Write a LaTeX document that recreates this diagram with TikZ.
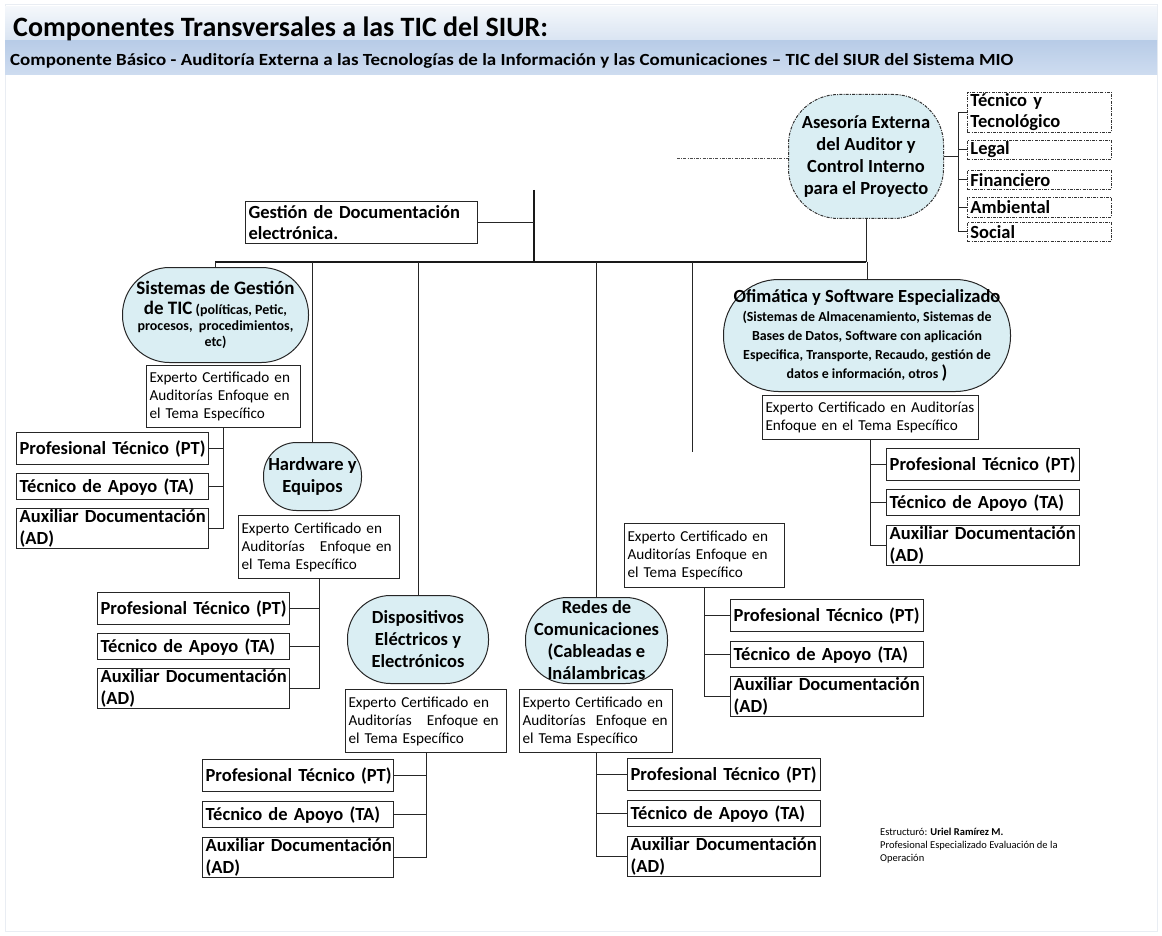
\documentclass[tikz,border=0pt]{standalone}
\usepackage{fontspec}
\usepackage{graphicx}
\setmainfont{Carlito}
\usetikzlibrary{calc}
\definecolor{lblue}{HTML}{DAEEF3}
\definecolor{bandA}{HTML}{F4F7FB}
\definecolor{bandB}{HTML}{D9E4F2}
\definecolor{bandC}{HTML}{B8CCE7}
\definecolor{bandD}{HTML}{CEDCF0}
\definecolor{pframe}{HTML}{E9EDF3}
\newcommand\bx[7]{\pgfmathsetmacro\bxtw{#4-6}\node[#6,minimum width=#4pt,minimum height=#5pt,text width=\bxtw pt,anchor=north west] (#1) at (#2,#3) {#7};}
\newcommand\rb[7]{\node[#6,minimum width=#4pt,minimum height=#5pt,anchor=north west] (#1) at (#2,#3) {#7};}
\newcommand\grp[8]{%
  \bx{#1pt}{#2}{#4}{#3}{32}{role}{\mbox{Profesional Técnico (PT)}}
  \bx{#1ta}{#2}{#5}{#3}{26}{role}{\mbox{Técnico de Apoyo (TA)}}
  \bx{#1ad}{#2}{#6}{#3}{40}{role}{\mbox{Auxiliar Documentación}\\\mbox{(AD)}}
  \draw[conn] (#7.south) -- (#7.south |- #1ad.#8);
  \draw[conn] (#1pt.#8) -- (#1pt.#8 -| #7.south);
  \draw[conn] (#1ta.#8) -- (#1ta.#8 -| #7.south);
  \draw[conn] (#1ad.#8) -- (#1ad.#8 -| #7.south);
}
\begin{document}
\begin{tikzpicture}[x=1pt,y=-1pt,
  conn/.style={line width=1pt, draw=black!85},
  role/.style={draw=black!85, line width=1.3pt, fill=white, font=\fontsize{18.5}{21.5}\selectfont\bfseries, align=left, inner xsep=3pt, inner ysep=0pt},
  expert/.style={draw=black!85, line width=1pt, fill=white, font=\fontsize{15.2}{18}\selectfont, align=left, inner xsep=3pt, inner ysep=0pt},
  topic/.style={draw=black!85, line width=1pt, fill=lblue, font=\fontsize{18.5}{22}\selectfont\bfseries, align=center, inner sep=0pt},
  dd/.style={dash pattern=on 3pt off 1.2pt on 1pt off 1.2pt},
  area/.style={draw=black!80, line width=0.9pt, dd, font=\fontsize{18.5}{21}\selectfont\bfseries, align=left, inner xsep=3pt, inner ysep=0pt},
]
\useasboundingbox (0,0) rectangle (1162,936);
\fill[white] (0,0) rectangle (1162,936);
\draw[pframe, line width=1pt] (5,5) rectangle (1157,931);
% header
\shade[top color=bandA, bottom color=bandB] (5,7) rectangle (1157,41);
\shade[top color=bandC, bottom color=bandD] (5,41) rectangle (1157,75);
\node[anchor=base west, inner sep=0pt, font=\fontsize{28}{30}\selectfont\bfseries] (title) at (13,37) {Componentes Transversales a las TIC del SIUR:};
\node[anchor=base west, inner sep=0pt, font=\fontsize{17}{18}\selectfont\bfseries] (subtitle) at (10,66) {\resizebox{1003pt}{\height}{Componente Básico - Auditoría Externa a las Tecnologías de la Información y las Comunicaciones – TIC del SIUR del Sistema MIO}};

% Asesoria and areas
\rb{ase}{788}{94}{155}{124}{topic, dd, draw=black!80, rounded corners=50pt}{Asesoría Externa\\del Auditor y\\Control Interno\\para el Proyecto}
\bx{a1}{967}{92}{144}{40}{area}{\mbox{Técnico y}\\\mbox{Tecnológico}}
\bx{a2}{967}{140}{144}{19}{area}{\mbox{Legal}}
\bx{a3}{967}{170}{144}{19}{area}{\mbox{Financiero}}
\bx{a4}{967}{197}{144}{20}{area}{\mbox{Ambiental}}
\bx{a5}{967}{222}{144}{19}{area}{\mbox{Social}}
\coordinate (brk) at (958,0);
\coordinate (dl) at (677,158);
\draw[line width=0.8pt, black!70, dd] (dl) -- (dl -| ase.west);
\draw[conn] (ase.east) -- (ase.east -| brk);
\draw[conn] (a1.west -| brk) -- (a5.west -| brk);
\foreach \a in {a1,a2,a3,a4,a5} \draw[conn] (\a.west) -- (\a.west -| brk);

% bus
\coordinate (busL) at (215,262);
\coordinate (busR) at (866,262);
\coordinate (tv) at (534,190);
\coordinate (free) at (692,452);
\draw[line width=1.8pt, black!90] (busL) -- (busR);
\draw[line width=2.2pt, black!90] (tv) -- (tv |- busL);
\bx{gest}{245}{201}{232}{42}{role, line width=1pt}{\mbox{Gestión de Documentación}\\\mbox{electrónica.}}
\draw[conn] (gest.east) -- (gest.east -| tv);
\draw[conn] (ase.south) -- (ase.south |- busL);

% topics
\rb{sis}{122}{267}{186}{95}{topic, rounded corners=47pt, font=\fontsize{14}{20}\selectfont\bfseries}{{\fontsize{19}{20}\selectfont Sistemas de Gestión}\\{\fontsize{19}{20}\selectfont de TIC} (políticas, Petic,\\[-4pt]procesos,\ \ procedimientos,\\[-4pt]etc)}
\rb{hw}{263}{442}{98}{68}{topic, rounded corners=33pt}{Hardware y\\Equipos}
\rb{dis}{347}{595}{141}{88}{topic, rounded corners=43pt}{Dispositivos\\Eléctricos y\\Electrónicos}
\rb{red}{525}{597}{142}{86}{topic, rounded corners=42pt}{Redes de\\Comunicaciones\\(Cableadas e\\Inálambricas}
\rb{ofi}{723}{279}{287}{112}{topic, rounded corners=55pt, font=\fontsize{13.9}{19}\selectfont\bfseries}{{\fontsize{18.5}{20}\selectfont Ofimática y Software Especializado}\\(Sistemas de Almacenamiento, Sistemas de\\Bases de Datos, Software con aplicación\\Especifica, Transporte, Recaudo, gestión de\\datos e información, otros {\fontsize{18.5}{19}\selectfont )}}

\draw[conn] (sis.north) -- (sis.north |- busL);
\draw[conn] (hw.north) -- (hw.north |- busL);
\draw[conn] (dis.north) -- (dis.north |- busL);
\draw[conn] (red.north) -- (red.north |- busL);
\draw[conn] (ofi.north) -- (ofi.north |- busL);
\draw[conn] (free |- busL) -- (free);

% experts
\bx{e1}{146}{365}{154}{62}{expert}{\mbox{Experto Certificado en}\\\mbox{Auditorías Enfoque en}\\\mbox{el Tema Específico}}
\bx{e2}{238}{515}{161}{63}{expert}{\mbox{Experto Certificado en}\\\mbox{Auditorías\ \ \ Enfoque en}\\\mbox{el Tema Específico}}
\bx{e3}{345}{689}{161}{63}{expert}{\mbox{Experto Certificado en}\\\mbox{Auditorías\ \ \ Enfoque en}\\\mbox{el Tema Específico}}
\bx{e4}{519}{689}{153}{63}{expert}{\mbox{Experto Certificado en}\\\mbox{Auditorías\ \ Enfoque en}\\\mbox{el Tema Específico}}
\bx{e5}{624}{523}{160}{64}{expert}{\mbox{Experto Certificado en}\\\mbox{Auditorías Enfoque en}\\\mbox{el Tema Específico}}
\bx{e6}{762}{395}{216}{44}{expert}{\mbox{Experto Certificado en Auditorías}\\\mbox{Enfoque en el Tema Específico}}

% role groups
\grp{ga}{16}{192}{432}{473}{508}{e1}{east}
\grp{gb}{97}{192}{592}{633}{668}{e2}{east}
\grp{gc}{202}{191}{759}{801}{837}{e3}{east}
\grp{gd}{627}{193}{758}{800}{836}{e4}{west}
\grp{ge}{730}{193}{599}{641}{676}{e5}{west}
\grp{gf}{886}{193}{448}{489}{525}{e6}{west}

% footer
\node[anchor=north west, inner sep=0pt, align=left, font=\fontsize{10.5}{13}\selectfont] (foot) at (880,828) {Estructuró: \textbf{Uriel Ramírez M.}\\Profesional Especializado Evaluación de la\\Operación};
\end{tikzpicture}
\end{document}
